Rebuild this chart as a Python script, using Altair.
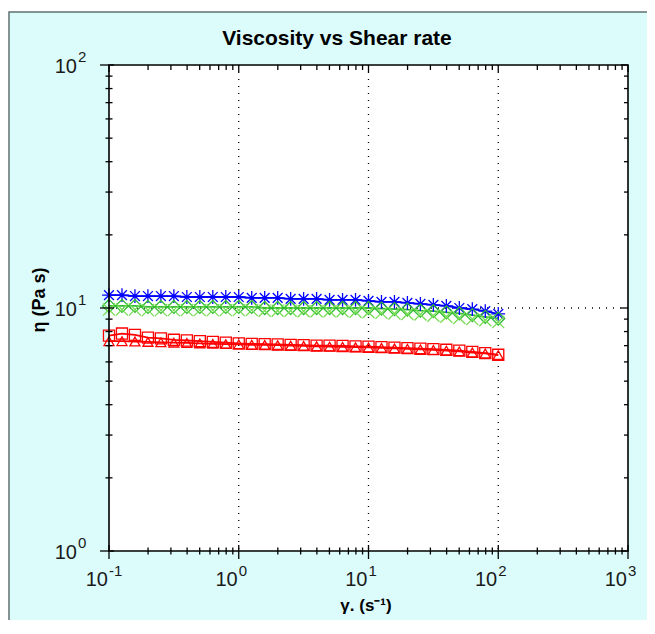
import altair as alt
import pandas as pd

# ---------------- data ----------------
shear_rate = [0.1, 0.1259, 0.1585, 0.1995, 0.2512, 0.3162, 0.3981, 0.5012, 0.631, 0.7943,
              1.0, 1.259, 1.585, 1.995, 2.512, 3.162, 3.981, 5.012, 6.31, 7.943,
              10.0, 12.59, 15.85, 19.95, 25.12, 31.62, 39.81, 50.12, 63.1, 79.43, 100.0]

blue_star = [11.3, 11.3, 11.2, 11.2, 11.2, 11.2, 11.1, 11.1, 11.1, 11.1,
             11.1, 11.0, 11.0, 11.0, 10.9, 10.9, 10.9, 10.8, 10.8, 10.8,
             10.7, 10.6, 10.6, 10.5, 10.4, 10.3, 10.2, 10.0, 9.9, 9.7, 9.45]
green_diamond = [10.2, 10.2, 10.2, 10.1, 10.1, 10.1, 10.1, 10.1, 10.1, 10.1,
                 10.1, 10.1, 10.0, 10.0, 10.0, 10.0, 10.0, 10.0, 10.0, 10.0,
                 10.0, 9.95, 9.9, 9.85, 9.75, 9.7, 9.6, 9.5, 9.35, 9.2, 9.05]
green_x = [9.85, 9.85, 9.85, 9.8, 9.8, 9.8, 9.8, 9.8, 9.8, 9.8,
           9.8, 9.8, 9.75, 9.75, 9.75, 9.7, 9.7, 9.7, 9.7, 9.65,
           9.6, 9.55, 9.5, 9.45, 9.4, 9.3, 9.2, 9.1, 9.0, 8.9, 8.75]
red_square = [7.7, 7.85, 7.75, 7.55, 7.5, 7.4, 7.35, 7.3, 7.25, 7.2,
              7.15, 7.12, 7.1, 7.08, 7.05, 7.03, 7.0, 7.0, 6.98, 6.95,
              6.93, 6.9, 6.87, 6.84, 6.8, 6.77, 6.73, 6.68, 6.6, 6.52, 6.42]
red_triangle = [7.3, 7.3, 7.28, 7.25, 7.22, 7.2, 7.18, 7.15, 7.12, 7.1,
                7.08, 7.06, 7.05, 7.03, 7.0, 6.98, 6.96, 6.94, 6.92, 6.9,
                6.88, 6.85, 6.82, 6.79, 6.76, 6.72, 6.68, 6.63, 6.56, 6.5, 6.4]

series_names = ["blue_star", "green_diamond", "green_x", "red_square", "red_triangle"]
series_colors = ["#0000ff", "#33bb33", "#77dd55", "#ff0000", "#ff0000"]
series_shapes = ["M-1,0H1M0,-1V1M-0.71,-0.71L0.71,0.71M-0.71,0.71L0.71,-0.71",
                 "diamond", "M-1,-1L1,1M-1,1L1,-1", "square", "triangle-up"]
series_sizes = [190, 100, 160, 150, 90]
line_series = ["blue_star", "green_diamond", "red_square", "red_triangle"]

x_major = [0.1, 1, 10, 100, 1000]
x_exp = ["-1", "0", "1", "2", "3"]
y_major = [1, 10, 100]
y_exp = ["0", "1", "2"]
minor_mult = [2, 3, 4, 5, 6, 7, 8, 9]
x_minor = [d * m for d in [0.1, 1, 10, 100] for m in minor_mult]
y_minor = [d * m for d in [1, 10] for m in minor_mult]
x_grid = [1, 10, 100]
y_grid = [10]

title_text = "Viscosity vs Shear rate"
x_title = "γ. (s⁻¹)"
y_title = "η (Pa s)"

# ---------------- frames ----------------
values = {"blue_star": blue_star, "green_diamond": green_diamond, "green_x": green_x,
          "red_square": red_square, "red_triangle": red_triangle}
rows = []
for name in series_names:
    for xv, yv in zip(shear_rate, values[name]):
        rows.append({"series": name, "rate": xv, "visc": yv})
df = pd.DataFrame(rows)
df_lines = df[df["series"].isin(line_series)]

xmaj_df = pd.DataFrame({"v": x_major, "e": x_exp})
ymaj_df = pd.DataFrame({"v": y_major, "e": y_exp})
xmin_df = pd.DataFrame({"v": x_minor})
ymin_df = pd.DataFrame({"v": y_minor})
xgrid_df = pd.DataFrame({"v": x_grid})
ygrid_df = pd.DataFrame({"v": y_grid})
one = pd.DataFrame({"k": [0]})

W, H = 519, 486
FONT = "Liberation Sans"
xs = alt.Scale(type="log", domain=[0.1, 1000], nice=False)
ys = alt.Scale(type="log", domain=[1, 100], nice=False)

color_scale = alt.Scale(domain=series_names, range=series_colors)
shape_scale = alt.Scale(domain=series_names, range=series_shapes)
size_scale = alt.Scale(domain=series_names, range=series_sizes)

# background panel (cyan with grey outline)
panel = alt.Chart(one).mark_rect(fill="#dcfcfc", stroke="#607070", strokeWidth=1.5).encode(
    x=alt.value(-100), x2=alt.value(W + 60), y=alt.value(-53), y2=alt.value(H + 120))
plot_bg = alt.Chart(one).mark_rect(fill="white").encode(
    x=alt.value(0), x2=alt.value(W), y=alt.value(0), y2=alt.value(H))

grid_x = alt.Chart(xgrid_df).mark_rule(color="black", strokeDash=[1, 6], strokeWidth=1.3).encode(
    x=alt.X("v:Q", scale=xs, axis=None), y=alt.value(0), y2=alt.value(H))
grid_y = alt.Chart(ygrid_df).mark_rule(color="black", strokeDash=[1, 6], strokeWidth=1.3).encode(
    y=alt.Y("v:Q", scale=ys, axis=None), x=alt.value(0), x2=alt.value(W))

lines = alt.Chart(df_lines).mark_line(strokeWidth=1.8).encode(
    x=alt.X("rate:Q", scale=xs, axis=None),
    y=alt.Y("visc:Q", scale=ys, axis=None),
    color=alt.Color("series:N", scale=color_scale, legend=None),
    detail="series:N")

points = alt.Chart(df).mark_point(filled=False, strokeWidth=1.3, opacity=1).encode(
    x=alt.X("rate:Q", scale=xs, axis=None),
    y=alt.Y("visc:Q", scale=ys, axis=None),
    color=alt.Color("series:N", scale=color_scale, legend=None),
    shape=alt.Shape("series:N", scale=shape_scale, legend=None),
    size=alt.Size("series:N", scale=size_scale, legend=None))

frame = alt.Chart(one).mark_rect(fill=None, fillOpacity=0, stroke="black", strokeWidth=1.6).encode(
    x=alt.value(0), x2=alt.value(W), y=alt.value(0), y2=alt.value(H))

tk = dict(color="black", strokeWidth=1.3)
bx_min = alt.Chart(xmin_df).mark_rule(**tk).encode(
    x=alt.X("v:Q", scale=xs, axis=None), y=alt.value(H - 3.5), y2=alt.value(H + 3.5))
bx_maj = alt.Chart(xmaj_df).mark_rule(**tk).encode(
    x=alt.X("v:Q", scale=xs, axis=None), y=alt.value(H - 6), y2=alt.value(H + 8))
tx_min = alt.Chart(xmin_df).mark_rule(**tk).encode(
    x=alt.X("v:Q", scale=xs, axis=None), y=alt.value(0), y2=alt.value(5))
tx_maj = alt.Chart(xmaj_df).mark_rule(**tk).encode(
    x=alt.X("v:Q", scale=xs, axis=None), y=alt.value(0), y2=alt.value(7))
ly_min = alt.Chart(ymin_df).mark_rule(**tk).encode(
    y=alt.Y("v:Q", scale=ys, axis=None), x=alt.value(-3.5), x2=alt.value(3.5))
ly_maj = alt.Chart(ymaj_df).mark_rule(**tk).encode(
    y=alt.Y("v:Q", scale=ys, axis=None), x=alt.value(-9), x2=alt.value(5))
ry_min = alt.Chart(ymin_df).mark_rule(**tk).encode(
    y=alt.Y("v:Q", scale=ys, axis=None), x=alt.value(W - 4), x2=alt.value(W))
ry_maj = alt.Chart(ymaj_df).mark_rule(**tk).encode(
    y=alt.Y("v:Q", scale=ys, axis=None), x=alt.value(W - 7), x2=alt.value(W))

lab = dict(font=FONT, fontSize=20, color="#1a1a1a")
sup = dict(font=FONT, fontSize=15, color="#1a1a1a")
xlab = alt.Chart(xmaj_df).mark_text(align="right", baseline="middle", dx=-1, **lab).encode(
    x=alt.X("v:Q", scale=xs, axis=None), y=alt.value(H + 29), text=alt.value("10"))
xsup = alt.Chart(xmaj_df).mark_text(align="left", baseline="middle", dx=0, **sup).encode(
    x=alt.X("v:Q", scale=xs, axis=None), y=alt.value(H + 20), text="e:N")
ylab = alt.Chart(ymaj_df).mark_text(align="right", baseline="middle", dy=2, **lab).encode(
    y=alt.Y("v:Q", scale=ys, axis=None), x=alt.value(-32), text=alt.value("10"))
ysup = alt.Chart(ymaj_df).mark_text(align="left", baseline="middle", dy=-8, **sup).encode(
    y=alt.Y("v:Q", scale=ys, axis=None), x=alt.value(-31), text="e:N")

title = alt.Chart(one).mark_text(font=FONT, fontSize=21, fontWeight="bold", color="black",
                                 align="center", baseline="alphabetic").encode(
    x=alt.value(228), y=alt.value(-20), text=alt.value(title_text))
xt = alt.Chart(one).mark_text(font=FONT, fontSize=17, fontWeight="bold", color="black",
                              align="center", baseline="middle").encode(
    x=alt.value(257), y=alt.value(H + 55), text=alt.value(x_title))
yt = alt.Chart(one).mark_text(font=FONT, fontSize=18, fontWeight="bold", color="black",
                              align="center", baseline="middle", angle=270).encode(
    x=alt.value(-69), y=alt.value(235), text=alt.value(y_title))

chart = alt.layer(
    panel, plot_bg, grid_x, grid_y, lines, points, frame,
    bx_min, bx_maj, tx_min, tx_maj, ly_min, ly_maj, ry_min, ry_maj,
    xlab, xsup, ylab, ysup, title, xt, yt
).properties(
    width=W, height=H,
    padding={"left": 101, "top": 57, "right": 19, "bottom": 69},
    autosize=alt.AutoSizeParams(type="none"),
    background="white"
).configure_view(stroke=None)

chart.save("out.html", embed_options={"renderer": "svg", "actions": False})
